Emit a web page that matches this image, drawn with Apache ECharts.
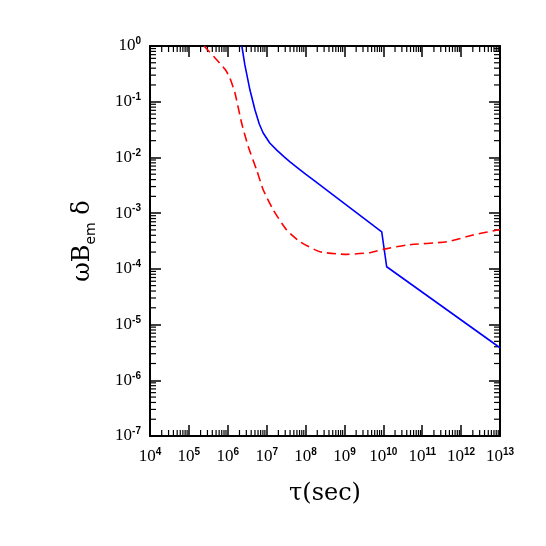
<!DOCTYPE html>
<html>
<head>
<meta charset="utf-8">
<script src="https://cdn.jsdelivr.net/npm/echarts@6/dist/echarts.min.js"></script>
<style>
  html, body { margin: 0; padding: 0; background: #fff; }
  #chart { width: 546px; height: 546px; }
</style>
</head>
<body>
<div id="chart"></div>
<script>
// values: tau (sec) vs omega*B_em*delta
const blueTau = [2.3e6, 2.75e6, 3.72e6, 5.01e6, 6.46e6, 8.13e6, 1.2e7, 1.82e7, 2.82e7, 3.98e7, 5.89e7, 1e8, 1.58e8, 9.3e8, 9.1e9, 1.22e10, 1e13];
const blueVal = [1, 0.457, 0.162, 0.0708, 0.0398, 0.0275, 0.0182, 0.0135, 0.0102, 8.3e-3, 6.7e-3, 5.0e-3, 3.94e-3, 1.55e-3, 4.62e-4, 1.09e-4, 3.84e-6];

const redTau = [2.45e5, 8.5e5, 1.14e6, 1.53e6, 2.28e6, 3.37e6, 5.55e6, 8.2e6, 1.48e7, 3.27e7, 7.2e7, 2.35e8, 1.14e9, 4.54e9, 1e10, 4e10, 4.3e11, 2.04e12, 1e13];
const redVal = [1, 0.382, 0.263, 0.143, 0.041, 0.0156, 5.9e-3, 2.6e-3, 1.14e-3, 5.0e-4, 3.07e-4, 2.03e-4, 1.82e-4, 1.95e-4, 2.24e-4, 2.68e-4, 3.07e-4, 4.05e-4, 5.1e-4];

const xDecades = [4, 5, 6, 7, 8, 9, 10, 11, 12, 13];
const yDecades = [-7, -6, -5, -4, -3, -2, -1, 0];
const minorMults = [2, 3, 4, 5, 6, 7, 8, 9];

const xMin = Math.pow(10, xDecades[0]), xMax = Math.pow(10, xDecades[xDecades.length - 1]);
const yMin = Math.pow(10, yDecades[0]), yMax = Math.pow(10, yDecades[yDecades.length - 1]);

function minorValues(decades) {
  const out = [];
  for (let i = 0; i < decades.length - 1; i++) {
    for (const m of minorMults) out.push(m * Math.pow(10, decades[i]));
  }
  return out;
}

const xMinor = minorValues(xDecades).map(v => [v, yMin]);
const yMinor = minorValues(yDecades).map(v => [xMin, v]);

function powLabel(v) {
  const e = Math.round(Math.log10(v));
  return '{b|10}{s|' + e + '}';
}

const labelRich = {
  b: { fontFamily: 'Liberation Serif', fontSize: 17, color: '#000', lineHeight: 19 },
  s: { fontFamily: 'Liberation Sans', fontWeight: 'bold', fontSize: 10, color: '#000', verticalAlign: 'top', lineHeight: 19 }
};

const frame = { show: true, onZero: false, lineStyle: { color: '#000', width: 2 } };
const majorTick = { show: true, inside: true, length: 11, lineStyle: { color: '#000', width: 1.5 } };
const MINOR = 6;

const chart = echarts.init(document.getElementById('chart'), null, { renderer: 'canvas' });

chart.setOption({
  backgroundColor: '#fff',
  animation: false,
  grid: { left: 150, right: 46, top: 46, bottom: 110 },
  xAxis: [
    {
      type: 'log', min: xMin, max: xMax, logBase: 10, position: 'bottom',
      axisLine: frame, axisTick: majorTick, splitLine: { show: false },
      axisLabel: { margin: 11, formatter: powLabel, rich: labelRich },
      name: '{t|τ(sec)}', nameLocation: 'middle', nameGap: 46,
      nameTextStyle: { rich: { t: { fontFamily: 'DejaVu Serif', fontSize: 24, color: '#000' } } }
    },
    {
      type: 'log', min: xMin, max: xMax, logBase: 10, position: 'top',
      axisLine: frame, axisTick: majorTick, splitLine: { show: false }, axisLabel: { show: false }
    }
  ],
  yAxis: [
    {
      type: 'log', min: yMin, max: yMax, logBase: 10, position: 'left',
      axisLine: frame, axisTick: majorTick, splitLine: { show: false },
      axisLabel: { margin: 9, formatter: powLabel, rich: labelRich },
      name: '{a|ωB}{e|em}{a| δ}', nameLocation: 'middle', nameGap: 52, nameRotate: 90,
      nameTextStyle: {
        rich: {
          a: { fontFamily: 'DejaVu Serif', fontSize: 24, color: '#000', lineHeight: 30 },
          e: { fontFamily: 'DejaVu Sans', fontSize: 14, color: '#000', verticalAlign: 'bottom', lineHeight: 30 }
        }
      }
    },
    {
      type: 'log', min: yMin, max: yMax, logBase: 10, position: 'right',
      axisLine: frame, axisTick: majorTick, splitLine: { show: false }, axisLabel: { show: false }
    }
  ],
  series: [
    {
      name: 'blue', type: 'line', xAxisIndex: 0, yAxisIndex: 0,
      data: blueTau.map((t, i) => [t, blueVal[i]]),
      showSymbol: false,
      lineStyle: { color: '#0000ff', width: 1.6 }
    },
    {
      name: 'red', type: 'line', xAxisIndex: 0, yAxisIndex: 0,
      data: redTau.map((t, i) => [t, redVal[i]]),
      showSymbol: false, smooth: 0.2,
      lineStyle: { color: '#ff0000', width: 1.6, type: [9, 5] }
    },
    {
      name: 'xminor', type: 'custom', xAxisIndex: 0, yAxisIndex: 0, silent: true, clip: false,
      data: xMinor,
      renderItem: (params, api) => {
        const b = api.coord([api.value(0), yMin]);
        const t = api.coord([api.value(0), yMax]);
        const st = { stroke: '#000', lineWidth: 1.2 };
        return {
          type: 'group',
          children: [
            { type: 'line', shape: { x1: b[0], y1: b[1], x2: b[0], y2: b[1] - MINOR }, style: st },
            { type: 'line', shape: { x1: t[0], y1: t[1], x2: t[0], y2: t[1] + MINOR }, style: st }
          ]
        };
      }
    },
    {
      name: 'yminor', type: 'custom', xAxisIndex: 0, yAxisIndex: 0, silent: true, clip: false,
      data: yMinor,
      renderItem: (params, api) => {
        const l = api.coord([xMin, api.value(1)]);
        const r = api.coord([xMax, api.value(1)]);
        const st = { stroke: '#000', lineWidth: 1.2 };
        return {
          type: 'group',
          children: [
            { type: 'line', shape: { x1: l[0], y1: l[1], x2: l[0] + MINOR, y2: l[1] }, style: st },
            { type: 'line', shape: { x1: r[0], y1: r[1], x2: r[0] - MINOR, y2: r[1] }, style: st }
          ]
        };
      }
    }
  ]
});

window.addEventListener('resize', () => chart.resize());
</script>
</body>
</html>
